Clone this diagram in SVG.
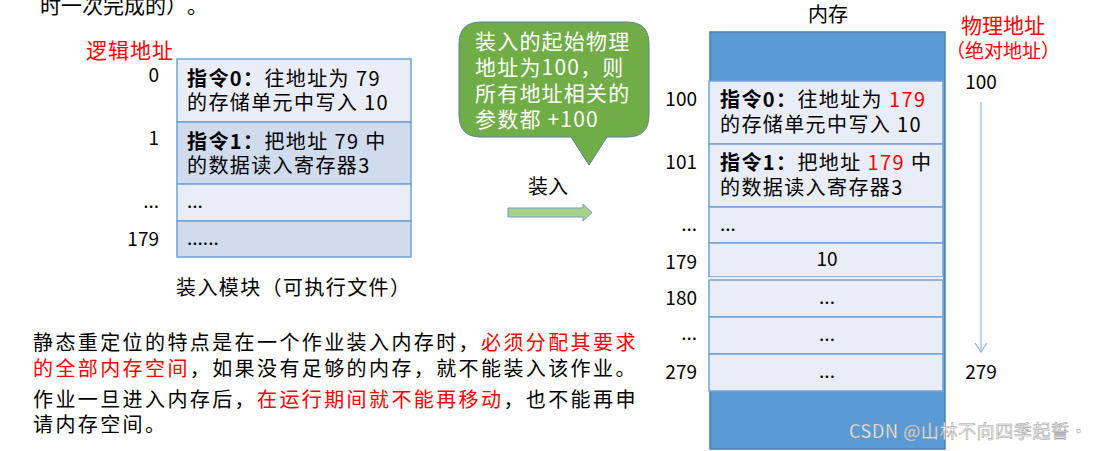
<svg xmlns="http://www.w3.org/2000/svg" width="1101" height="451" viewBox="0 0 1101 451">
<style>
text{font-family:"Noto Sans CJK SC","Liberation Sans",sans-serif;fill:#000;text-spacing-trim:space-all;}
.t20{font-size:20px;}
.t19{font-size:19px;}
.t21{font-size:21px;}
.cell{font-size:20px;letter-spacing:1.4px;}
.para{font-size:20px;letter-spacing:2.4px;}
.red{fill:#ff0000;}
.b{font-weight:bold;}
.lt{fill:#e9edf7;stroke:#6fa3da;stroke-width:1.5;}
.dk{fill:#d0dbee;stroke:#6fa3da;stroke-width:1.5;}
.mid{text-anchor:middle;}
.end{text-anchor:end;}
.wt{fill:#fff;}
</style>
<defs>
<marker id="chev" markerWidth="16" markerHeight="16" refX="12" refY="7" orient="auto" markerUnits="userSpaceOnUse">
<path d="M3,1 L12,7 L3,13" fill="none" stroke="#8fb8e3" stroke-width="1.2"/>
</marker>
</defs>
<rect width="1101" height="451" fill="#fff"/>

<text x="40" y="13" class="t21">时一次完成的）。</text>

<g id="logical-table">
<text x="86" y="58" class="t21 red" letter-spacing="1">逻辑地址</text>
<rect x="177" y="59" width="234" height="63" class="lt"/>
<rect x="177" y="122" width="234" height="62" class="dk"/>
<rect x="177" y="184" width="234" height="37" class="lt"/>
<rect x="177" y="221" width="234" height="36" class="dk"/>
<text x="187" y="86" class="cell"><tspan class="b">指令0：</tspan>往地址为 79</text>
<text x="187" y="110" class="cell">的存储单元中写入 10</text>
<text x="187" y="149" class="cell"><tspan class="b">指令1：</tspan>把地址 79 中</text>
<text x="187" y="173" class="cell">的数据读入寄存器3</text>
<text x="187" y="208" class="t19">...</text>
<text x="187" y="245" class="t19">......</text>
<text x="159" y="82" class="t19 end">0</text>
<text x="159" y="145" class="t19 end">1</text>
<text x="159" y="208" class="t19 end">...</text>
<text x="159" y="246" class="t19 end">179</text>
<text x="176" y="295" class="cell">装入模块（可执行文件）</text>
</g>

<g id="callout">
<path d="M481,22 H627 Q649,22 649,44 V115 Q649,137 627,137 H607 L589,165 L571,137 H481 Q459,137 459,115 V44 Q459,22 481,22 Z" fill="#70ad47" stroke="#5b7fa6" stroke-width="1"/>
<text x="475" y="49" class="t21 wt" letter-spacing="1.2">装入的起始物理</text>
<text x="475" y="75" class="t21 wt" letter-spacing="1.2">地址为100，则</text>
<text x="475" y="101" class="t21 wt" letter-spacing="1.2">所有地址相关的</text>
<text x="475" y="127" class="t21 wt" letter-spacing="1.2">参数都 +100</text>
</g>

<g id="load-label">
<text x="528" y="194" class="t20">装入</text>
</g>

<g id="memory">
<text x="828" y="22" class="t20 mid">内存</text>
<rect x="710" y="32" width="235" height="417" fill="#5b9bd5" stroke="#4a7fb5" stroke-width="1.5"/>
<rect x="709" y="81" width="234" height="63" class="lt"/>
<rect x="709" y="144" width="234" height="63" class="lt"/>
<rect x="709" y="207" width="234" height="36" class="lt"/>
<rect x="709" y="243" width="234" height="34" class="lt"/>
<rect x="709" y="277" width="234" height="3" fill="#e9edf7"/>
<rect x="709" y="280" width="234" height="37" class="lt"/>
<rect x="709" y="317" width="234" height="37" class="lt"/>
<rect x="709" y="354" width="234" height="37" class="lt"/>
<text x="720" y="107" class="cell"><tspan class="b">指令0：</tspan>往地址为 <tspan class="red">179</tspan></text>
<text x="720" y="132" class="cell">的存储单元中写入 10</text>
<text x="720" y="170" class="cell"><tspan class="b">指令1：</tspan>把地址 <tspan class="red">179</tspan> 中</text>
<text x="720" y="195" class="cell">的数据读入寄存器3</text>
<text x="720" y="231" class="t19">...</text>
<text x="827" y="266" class="t19 mid">10</text>
<text x="827" y="304" class="t19 mid">...</text>
<text x="827" y="341" class="t19 mid">...</text>
<text x="827" y="378" class="t19 mid">...</text>
<text x="697" y="106" class="t19 end">100</text>
<text x="697" y="169" class="t19 end">101</text>
<text x="697" y="231" class="t19 end">...</text>
<text x="697" y="269" class="t19 end">179</text>
<text x="697" y="305" class="t19 end">180</text>
<text x="697" y="340" class="t19 end">...</text>
<text x="697" y="379" class="t19 end">279</text>
</g>

<g id="physical-address">
<text x="1003" y="33" class="t21 red mid">物理地址</text>
<text x="1003" y="58" class="t19 red mid">（绝对地址）</text>
<text x="981" y="89" class="t19 mid">100</text>
<text x="981" y="379" class="t19 mid">279</text>
</g>

<g id="connectors">
<path d="M508,208 H583 V204 L592,212.5 L583,221 V217 H508 Z" fill="#a9d18e" stroke="#6e9bc6" stroke-width="1"/>
<line x1="981" y1="102" x2="981" y2="352" stroke="#8fb8e3" stroke-width="1.2" marker-end="url(#chev)"/>
</g>

<text x="849" y="438" font-size="18" letter-spacing="0.6" stroke="#9a9a9a" stroke-width="0.5" style="fill:#f4f4f4">CSDN @山林不向四季起誓·</text>

<g id="description">
<text x="33" y="350" class="para">静态重定位的特点是在一个作业装入内存时，<tspan class="red">必须分配其要求</tspan></text>
<text x="33" y="376" class="para"><tspan class="red">的全部内存空间</tspan>，如果没有足够的内存，就不能装入该作业。</text>
<text x="33" y="407" class="para">作业一旦进入内存后，<tspan class="red">在运行期间就不能再移动</tspan>，也不能再申</text>
<text x="33" y="432" class="para">请内存空间。</text>
</g>
</svg>
